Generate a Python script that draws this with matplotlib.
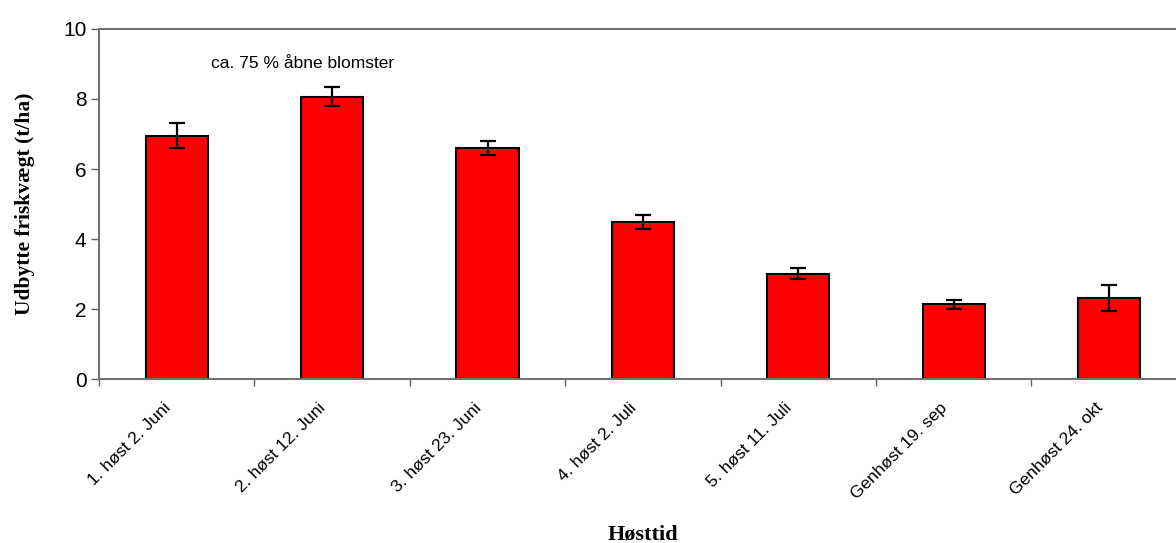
import numpy as np
import matplotlib
matplotlib.use('Agg')
import matplotlib.pyplot as plt
import matplotlib.transforms as mtransforms

# Data
categories = ['1. høst 2. Juni', '2. høst 12. Juni', '3. høst 23. Juni', '4. høst 2. Juli',
              '5. høst 11. Juli', 'Genhøst 19. sep', 'Genhøst 24. okt']
yields = [6.95, 8.07, 6.59, 4.48, 3.01, 2.14, 2.31]
errors = [0.36, 0.26, 0.20, 0.20, 0.16, 0.13, 0.38]

fig = plt.figure(figsize=(11.76, 5.43), dpi=100)
ax = fig.add_axes([0.0842, 0.302, 0.9158, 0.6446])

x = np.arange(len(categories))
ax.bar(x, yields, width=0.4, color='#ff0000', edgecolor='black', linewidth=1.5, zorder=2)
ax.errorbar(x, yields, yerr=errors, fmt='none', ecolor='black', elinewidth=1.6,
            capsize=5.5, capthick=1.6, zorder=3)

ax.set_xlim(-0.5, 6.43)
ax.set_ylim(0, 10)
ax.set_yticks([0, 2, 4, 6, 8, 10])

# labels at bar centres, tick marks between categories
ax.set_xticks(x)
ax.set_xticklabels(categories, rotation=45, ha='right', rotation_mode='anchor',
                   fontfamily='Liberation Sans', fontsize=12.5)
ax.tick_params(axis='x', length=0, pad=15)
shift = mtransforms.ScaledTranslation(-14 / 100, 0, fig.dpi_scale_trans)
for lab in ax.get_xticklabels():
    lab.set_transform(lab.get_transform() + shift)
ax.set_xticks(np.arange(-0.5, 6.5, 1.0), minor=True)
ax.tick_params(axis='x', which='minor', length=5, width=1, color='#606060', direction='out')
ax.tick_params(axis='y', length=6, width=1, color='#606060', direction='out', labelsize=15, pad=3)
for lab in ax.get_yticklabels():
    lab.set_fontfamily('Liberation Sans')

for side in ['left', 'top', 'bottom']:
    ax.spines[side].set_color('#707070')
    ax.spines[side].set_linewidth(1.4)
ax.spines['right'].set_visible(False)

ax.text(0.22, 9.0, 'ca. 75 % åbne blomster', fontfamily='Liberation Sans', fontsize=12.5,
        va='center', ha='left')

ax.set_ylabel('Udbytte friskvægt (t/ha)', fontfamily='Liberation Serif', fontweight='bold',
              fontsize=15.5, labelpad=20)
# x-axis title sits right at the bottom edge of the picture
fig.text(0.547, 4 / 543, 'Høsttid', fontfamily='Liberation Serif', fontweight='bold',
         fontsize=16, ha='center', va='baseline')

fig.savefig('out.png', dpi=100)
